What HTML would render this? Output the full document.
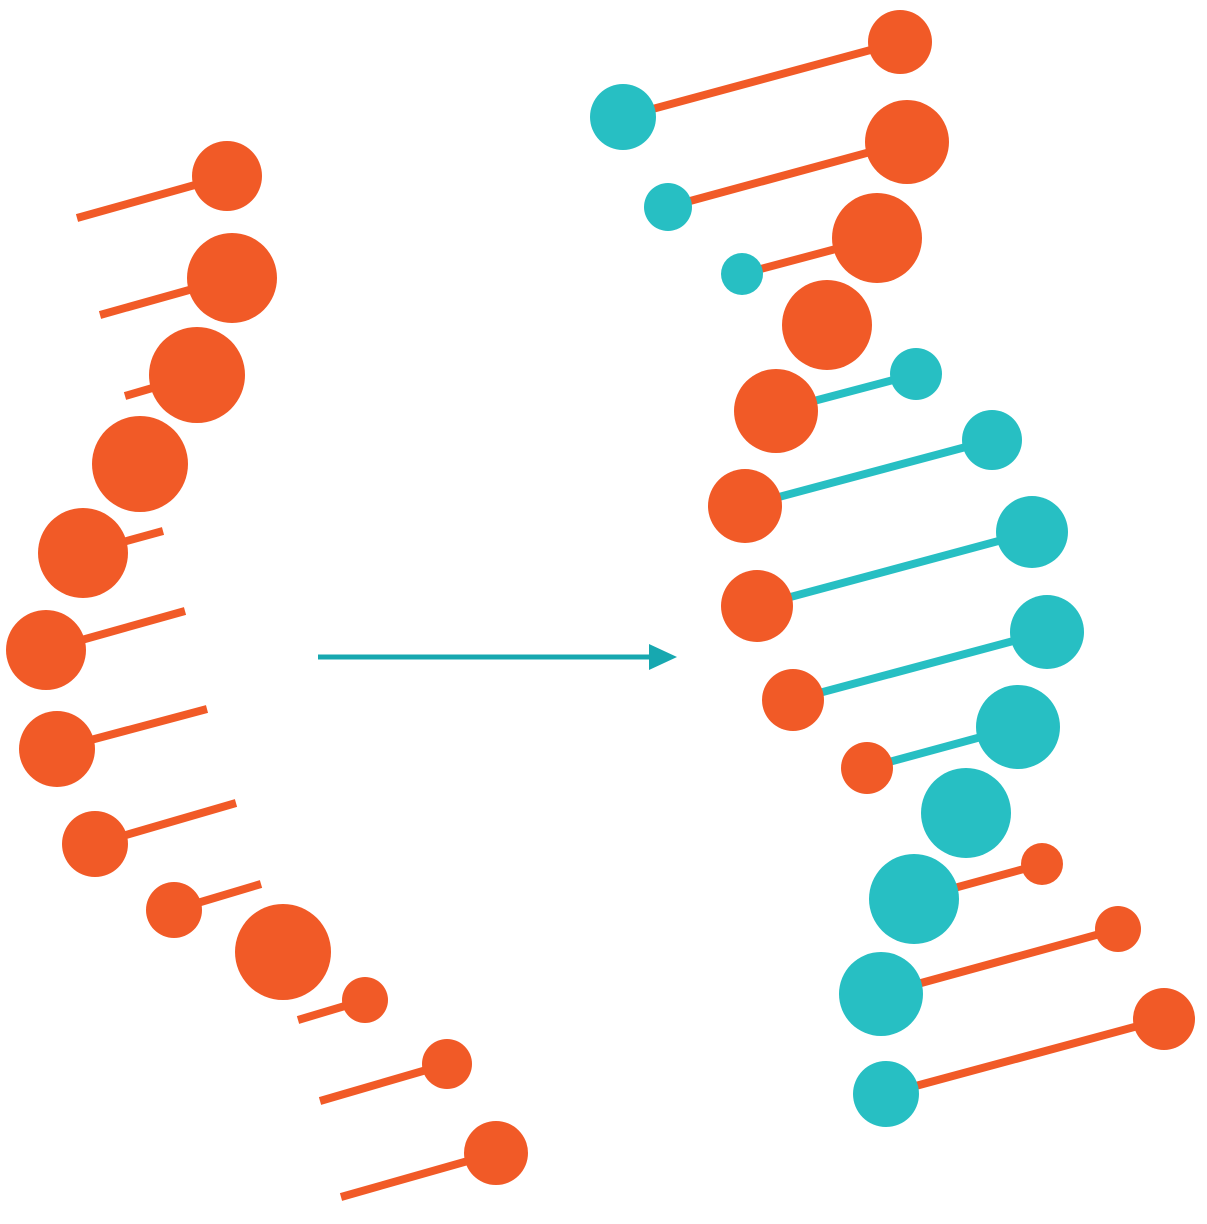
<!DOCTYPE html>
<html><head><meta charset="utf-8"><style>html,body{margin:0;padding:0;background:#fff}svg{display:block}</style></head>
<body>
<svg width="1207" height="1224" viewBox="0 0 1207 1224" xmlns="http://www.w3.org/2000/svg">
<g stroke-width="8" stroke-linecap="butt">
<!-- left strand lines -->
<g stroke="#F15A27">
<line x1="77" y1="218" x2="227" y2="176"/>
<line x1="100" y1="315" x2="232" y2="278"/>
<line x1="125" y1="396" x2="197" y2="375"/>
<line x1="83" y1="553" x2="163" y2="531"/>
<line x1="46" y1="650" x2="185" y2="611"/>
<line x1="57" y1="749" x2="207" y2="709"/>
<line x1="95" y1="844" x2="236" y2="803"/>
<line x1="174" y1="910" x2="261" y2="884"/>
<line x1="298" y1="1020" x2="365" y2="1000"/>
<line x1="320" y1="1101" x2="447" y2="1064"/>
<line x1="341" y1="1197" x2="496" y2="1153"/>
<!-- right orange lines -->
<line x1="623" y1="117" x2="900" y2="42"/>
<line x1="668" y1="207" x2="907" y2="142"/>
<line x1="742" y1="274" x2="877" y2="238"/>
<line x1="914" y1="899" x2="1042" y2="864"/>
<line x1="881" y1="994" x2="1118" y2="929"/>
<line x1="886" y1="1094" x2="1164" y2="1019"/>
</g>
<g stroke="#27BFC3">
<line x1="776" y1="411" x2="916" y2="374"/>
<line x1="745" y1="506" x2="992" y2="440"/>
<line x1="757" y1="606" x2="1032" y2="532"/>
<line x1="793" y1="700" x2="1047" y2="632"/>
<line x1="867" y1="768" x2="1018" y2="727"/>
</g>
</g>
<g fill="#F15A27">
<circle cx="227" cy="176" r="35"/>
<circle cx="232" cy="278" r="45"/>
<circle cx="197" cy="375" r="48"/>
<circle cx="140" cy="464" r="48"/>
<circle cx="83" cy="553" r="45"/>
<circle cx="46" cy="650" r="40"/>
<circle cx="57" cy="749" r="38"/>
<circle cx="95" cy="844" r="33"/>
<circle cx="174" cy="910" r="28"/>
<circle cx="283" cy="952" r="48"/>
<circle cx="365" cy="1000" r="23"/>
<circle cx="447" cy="1064" r="25"/>
<circle cx="496" cy="1153" r="32"/>
<circle cx="900" cy="42" r="32"/>
<circle cx="907" cy="142" r="42"/>
<circle cx="877" cy="238" r="45"/>
<circle cx="827" cy="325" r="45"/>
<circle cx="776" cy="411" r="42"/>
<circle cx="745" cy="506" r="37"/>
<circle cx="757" cy="606" r="36"/>
<circle cx="793" cy="700" r="31"/>
<circle cx="867" cy="768" r="26"/>
<circle cx="1042" cy="864" r="21"/>
<circle cx="1118" cy="929" r="23"/>
<circle cx="1164" cy="1019" r="31"/>
</g>
<g fill="#27BFC3">
<circle cx="623" cy="117" r="33"/>
<circle cx="668" cy="207" r="24"/>
<circle cx="742" cy="274" r="21"/>
<circle cx="916" cy="374" r="26"/>
<circle cx="992" cy="440" r="30"/>
<circle cx="1032" cy="532" r="36"/>
<circle cx="1047" cy="632" r="37"/>
<circle cx="1018" cy="727" r="42"/>
<circle cx="966" cy="813" r="45"/>
<circle cx="914" cy="899" r="45"/>
<circle cx="881" cy="994" r="42"/>
<circle cx="886" cy="1094" r="33"/>
</g>
<line x1="318" y1="657" x2="652" y2="657" stroke="#17A8B0" stroke-width="5"/>
<polygon points="649,644 677,657 649,670" fill="#17A8B0"/>
</svg>
</body></html>
